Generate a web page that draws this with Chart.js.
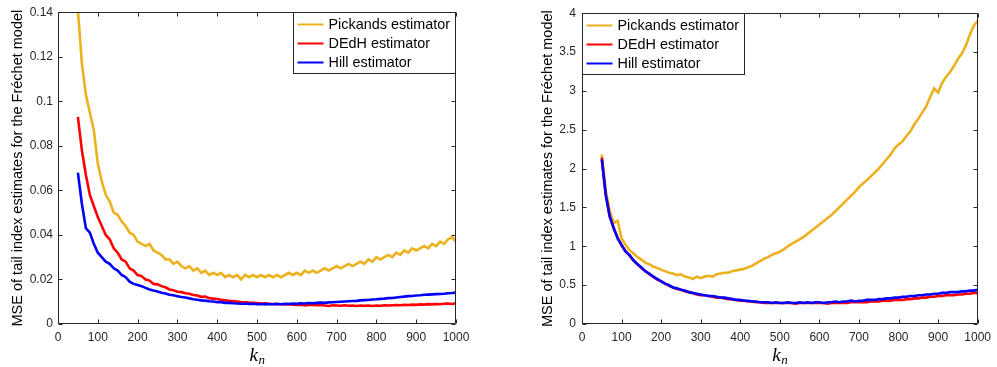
<!DOCTYPE html>
<html>
<head>
<meta charset="utf-8">
<script src="https://cdn.jsdelivr.net/npm/chart.js@4.4.0/dist/chart.umd.min.js"></script>
<style>
  html, body { margin: 0; padding: 0; background: #fff; }
  #wrap { position: relative; width: 997px; height: 367px; }
  canvas { position: absolute; top: 0; }
</style>
</head>
<body>
<div id="wrap">
  <canvas id="leftChart" width="480" height="367" style="left:0px"></canvas>
  <canvas id="rightChart" width="477" height="367" style="left:520px"></canvas>
</div>
<script>
// k_n values (x axis)
const kValues = [
  50, 60, 70, 80, 90, 100, 110, 120, 130, 140,
  150, 160, 170, 180, 190, 200, 210, 220, 230, 240,
  250, 260, 270, 280, 290, 300, 310, 320, 330, 340,
  350, 360, 370, 380, 390, 400, 410, 420, 430, 440,
  450, 460, 470, 480, 490, 500, 510, 520, 530, 540,
  550, 560, 570, 580, 590, 600, 610, 620, 630, 640,
  650, 660, 670, 680, 690, 700, 710, 720, 730, 740,
  750, 760, 770, 780, 790, 800, 810, 820, 830, 840,
  850, 860, 870, 880, 890, 900, 910, 920, 930, 940,
  950, 960, 970, 980, 990, 1000
];

// left panel
const pickandsLeft = [
  .141, .117, .103, .095, .087, .072, .064, .058, .055, .050,
  .049, .046, .044, .041, .040, .037, .036, .035, .036, .033,
  .032, .031, .029, .029, .027, .028, .026, .025, .026, .024,
  .025, .023, .024, .022, .023, .022, .023, .021, .022, .021,
  .022, .020, .022, .021, .022, .021, .022, .021, .022, .021,
  .022, .021, .022, .023, .022, .023, .022, .024, .023, .024,
  .023, .024, .025, .024, .025, .026, .025, .026, .027, .026,
  .027, .028, .027, .029, .028, .030, .029, .030, .031, .030,
  .032, .031, .033, .032, .034, .033, .034, .035, .034, .036,
  .035, .037, .036, .038, .039, .037
];
const dedhLeft = [
  .093, .078, .067, .058, .053, .048, .044, .040, .038, .034,
  .032, .029, .028, .025, .024, .022, .0215, .020, .0195, .018,
  .0178, .017, .0165, .0155, .0152, .0145, .0143, .0138, .0136, .013,
  .0128, .0122, .0123, .0116, .0114, .0112, .0109, .0107, .0104, .0103,
  .0101, .0099, .0098, .0096, .0095, .0094, .0092, .0093, .0091, .0090,
  .0091, .0089, .0088, .0089, .0087, .0086, .0087, .0083, .0086, .0085,
  .0084, .0085, .0083, .0081, .0084, .0083, .0082, .0084, .0082, .0083,
  .0081, .0083, .0082, .0083, .0081, .0083, .0082, .0084, .0083, .0084,
  .0085, .0084, .0086, .0085, .0087, .0086, .0088, .0087, .0089, .0088,
  .0090, .0089, .0091, .0092, .0090, .0093
];
const hillLeft = [
  .068, .054, .043, .041, .036, .032, .030, .028, .027, .025,
  .024, .022, .021, .019, .018, .0175, .017, .0162, .0155, .0150,
  .0146, .0140, .0137, .0131, .0129, .0125, .0121, .0119, .0115, .0111,
  .0109, .0106, .0105, .0102, .0101, .0098, .0098, .0095, .0095, .0093,
  .0092, .0091, .0092, .0090, .0091, .0089, .0090, .0088, .0090, .0089,
  .0090, .0089, .0091, .0090, .0092, .0091, .0093, .0092, .0094, .0093,
  .0095, .0096, .0095, .0097, .0098, .0099, .0100, .0101, .0102, .0103,
  .0104, .0106, .0107, .0108, .0110, .0111, .0113, .0114, .0116, .0117,
  .0119, .0121, .0123, .0125, .0126, .0128, .0129, .0131, .0132, .0133,
  .0134, .0135, .0136, .0138, .0139, .0141
];

// right panel
const pickandsRight = [
  2.18, 1.72, 1.46, 1.30, 1.33, 1.10, 1.02, 0.95, 0.91, 0.86,
  0.83, 0.79, 0.77, 0.74, 0.72, 0.70, 0.68, 0.66, 0.65, 0.63,
  0.64, 0.61, 0.60, 0.58, 0.61, 0.59, 0.61, 0.62, 0.61, 0.64,
  0.65, 0.66, 0.66, 0.68, 0.69, 0.70, 0.71, 0.73, 0.75, 0.78,
  0.81, 0.84, 0.86, 0.89, 0.91, 0.93, 0.96, 1.00, 1.03, 1.06,
  1.09, 1.12, 1.16, 1.20, 1.24, 1.28, 1.32, 1.36, 1.40, 1.45,
  1.50, 1.55, 1.60, 1.65, 1.70, 1.76, 1.81, 1.85, 1.90, 1.95,
  2.00, 2.06, 2.12, 2.18, 2.26, 2.31, 2.35, 2.42, 2.48, 2.57,
  2.64, 2.72, 2.80, 2.92, 3.03, 2.98, 3.10, 3.18, 3.24, 3.32,
  3.41, 3.48, 3.58, 3.72, 3.84, 3.90
];
const dedhRight = [
  2.14, 1.67, 1.39, 1.23, 1.11, 1.01, 0.94, 0.88, 0.82, 0.77,
  0.72, 0.68, 0.64, 0.61, 0.57, 0.55, 0.52, 0.49, 0.47, 0.45,
  0.44, 0.42, 0.41, 0.40, 0.38, 0.37, 0.37, 0.36, 0.35, 0.34,
  0.34, 0.33, 0.32, 0.32, 0.31, 0.30, 0.30, 0.29, 0.29, 0.28,
  0.28, 0.27, 0.27, 0.27, 0.27, 0.27, 0.27, 0.27, 0.27, 0.26,
  0.27, 0.27, 0.27, 0.27, 0.27, 0.27, 0.27, 0.26, 0.27, 0.27,
  0.27, 0.27, 0.27, 0.28, 0.28, 0.28, 0.28, 0.28, 0.29, 0.29,
  0.29, 0.30, 0.30, 0.30, 0.31, 0.31, 0.31, 0.32, 0.32, 0.33,
  0.33, 0.34, 0.34, 0.35, 0.35, 0.36, 0.36, 0.37, 0.37, 0.37,
  0.38, 0.38, 0.39, 0.39, 0.40, 0.40
];
const hillRight = [
  2.12, 1.66, 1.38, 1.24, 1.10, 1.02, 0.93, 0.89, 0.82, 0.77,
  0.73, 0.68, 0.65, 0.61, 0.58, 0.55, 0.52, 0.50, 0.47, 0.46,
  0.44, 0.43, 0.41, 0.40, 0.39, 0.38, 0.37, 0.36, 0.36, 0.35,
  0.34, 0.34, 0.33, 0.32, 0.31, 0.31, 0.30, 0.30, 0.29, 0.29,
  0.28, 0.28, 0.28, 0.27, 0.28, 0.27, 0.27, 0.28, 0.27, 0.27,
  0.28, 0.27, 0.28, 0.27, 0.28, 0.28, 0.27, 0.28, 0.28, 0.29,
  0.28, 0.29, 0.29, 0.30, 0.29, 0.30, 0.30, 0.31, 0.31, 0.31,
  0.32, 0.32, 0.33, 0.33, 0.34, 0.34, 0.35, 0.35, 0.36, 0.36,
  0.37, 0.37, 0.38, 0.38, 0.39, 0.39, 0.40, 0.40, 0.41, 0.41,
  0.41, 0.42, 0.42, 0.43, 0.43, 0.44
];

const xTickLabels = ['0', '100', '200', '300', '400', '500', '600', '700', '800', '900', '1000'];
const yTicksLeft = ['0', '0.02', '0.04', '0.06', '0.08', '0.1', '0.12', '0.14'];
const yTicksRight = ['0', '0.5', '1', '1.5', '2', '2.5', '3', '3.5', '4'];

const seriesNames = ['Pickands estimator', 'DEdH estimator', 'Hill estimator'];
const seriesColors = ['#EDB120', '#FF0000', '#0000FF'];
const yTitle = 'MSE of tail index estimates for the Fr\u00e9chet model';

const AXIS_COLOR = '#262626';
const SANS = '"Liberation Sans", Arial, Helvetica, sans-serif';

Chart.defaults.font.family = SANS;
Chart.defaults.color = AXIS_COLOR;

// matlab style box, inward ticks, titles and boxed legend
const matlabAxes = {
  id: 'matlabAxes',
  afterDraw(chart, args, opts) {
    const ctx = chart.ctx;
    const a = chart.chartArea;
    const sx = chart.scales.x, sy = chart.scales.y;
    ctx.save();

    ctx.strokeStyle = AXIS_COLOR;
    ctx.lineWidth = 1;
    const L = Math.round(a.left) + 0.5, R = Math.round(a.right) - 0.5;
    const T = Math.round(a.top) + 0.5, B = Math.round(a.bottom) - 0.5;
    ctx.beginPath();
    ctx.rect(L, T, R - L, B - T);
    sx.ticks.forEach(t => {
      const p = Math.round(sx.getPixelForValue(t.value)) + 0.5;
      ctx.moveTo(p, B); ctx.lineTo(p, B - 4);
      ctx.moveTo(p, T); ctx.lineTo(p, T + 4);
    });
    sy.ticks.forEach(t => {
      const p = Math.round(sy.getPixelForValue(t.value)) + 0.5;
      ctx.moveTo(L, p); ctx.lineTo(L + 4, p);
      ctx.moveTo(R, p); ctx.lineTo(R - 4, p);
    });
    ctx.stroke();

    // y title
    ctx.fillStyle = '#000';
    ctx.font = '14.5px ' + SANS;
    ctx.textAlign = 'center';
    ctx.textBaseline = 'middle';
    ctx.save();
    ctx.translate(opts.yTitleX, (a.top + a.bottom) / 2);
    ctx.rotate(-Math.PI / 2);
    ctx.fillText(yTitle, 0, 0);
    ctx.restore();

    // x title k_n
    const cx = (a.left + a.right) / 2;
    ctx.textAlign = 'left';
    ctx.textBaseline = 'alphabetic';
    ctx.font = 'italic 19px "Liberation Serif", "DejaVu Serif", serif';
    const wk = ctx.measureText('k').width;
    ctx.font = 'italic 13px "Liberation Serif", "DejaVu Serif", serif';
    const wn = ctx.measureText('n').width;
    const x0 = cx - (wk + wn) / 2;
    ctx.font = 'italic 19px "Liberation Serif", "DejaVu Serif", serif';
    ctx.fillText('k', x0, 361);
    ctx.font = 'italic 13px "Liberation Serif", "DejaVu Serif", serif';
    ctx.fillText('n', x0 + wk + 0.5, 364);

    // legend
    const bw = 162, bh = 61;
    const bx = opts.legendSide === 'right' ? Math.round(a.right) - bw - 0.5 : Math.round(a.left) + 0.5;
    const by = Math.round(a.top) + 0.5;
    ctx.fillStyle = '#fff';
    ctx.fillRect(bx, by, bw, bh);
    ctx.strokeStyle = AXIS_COLOR;
    ctx.lineWidth = 1;
    ctx.strokeRect(bx, by, bw, bh);
    ctx.font = '14.4px ' + SANS;
    ctx.textBaseline = 'middle';
    seriesNames.forEach((name, i) => {
      const yy = by + 12 + i * 19;
      ctx.strokeStyle = seriesColors[i];
      ctx.lineWidth = 2;
      ctx.beginPath();
      ctx.moveTo(bx + 4, yy);
      ctx.lineTo(bx + 30, yy);
      ctx.stroke();
      ctx.fillStyle = '#000';
      ctx.fillText(name, bx + 35, yy + 0.5);
    });

    ctx.restore();
  }
};

function toPoints(vals) {
  return kValues.map((k, i) => ({ x: k, y: vals[i] }));
}

function makeChart(id, pick, dedh, hill, yMax, yStep, yLabels, cfg) {
  // later datasets in the list are drawn underneath
  const datasets = [
    { label: seriesNames[2], data: toPoints(hill), borderColor: seriesColors[2] },
    { label: seriesNames[1], data: toPoints(dedh), borderColor: seriesColors[1] },
    { label: seriesNames[0], data: toPoints(pick), borderColor: seriesColors[0] }
  ].map(d => Object.assign(d, { borderWidth: 2.6, pointRadius: 0, tension: 0, fill: false }));

  return new Chart(document.getElementById(id), {
    type: 'line',
    data: { datasets: datasets },
    options: {
      responsive: false,
      animation: false,
      devicePixelRatio: 1,
      layout: { padding: { top: 11, right: cfg.padRight, left: 0, bottom: 0 } },
      plugins: {
        legend: { display: false },
        tooltip: { enabled: false },
        matlabAxes: { yTitleX: cfg.yTitleX, legendSide: cfg.legendSide }
      },
      scales: {
        x: {
          type: 'linear',
          min: 0,
          max: 1000,
          grid: { display: false, drawTicks: false },
          border: { display: false },
          ticks: {
            stepSize: 100,
            padding: 6,
            maxRotation: 0,
            color: AXIS_COLOR,
            font: { size: 12 },
            callback: v => xTickLabels[Math.round(v / 100)]
          },
          afterFit: s => { s.height = 43; }
        },
        y: {
          min: 0,
          max: yMax,
          grid: { display: false, drawTicks: false },
          border: { display: false },
          ticks: {
            stepSize: yStep,
            padding: cfg.tickPad,
            color: AXIS_COLOR,
            font: { size: 12 },
            callback: v => yLabels[Math.round(v / yStep)]
          },
          afterFit: s => { s.width = cfg.axisWidth; }
        }
      }
    },
    plugins: [matlabAxes]
  });
}

makeChart('leftChart', pickandsLeft, dedhLeft, hillLeft, 0.14, 0.02, yTicksLeft,
  { padRight: 24, axisWidth: 58, tickPad: 5, yTitleX: 18, legendSide: 'right' });
makeChart('rightChart', pickandsRight, dedhRight, hillRight, 4, 0.5, yTicksRight,
  { padRight: 18, axisWidth: 62, tickPad: 6, yTitleX: 28, legendSide: 'left' });
</script>
</body>
</html>
